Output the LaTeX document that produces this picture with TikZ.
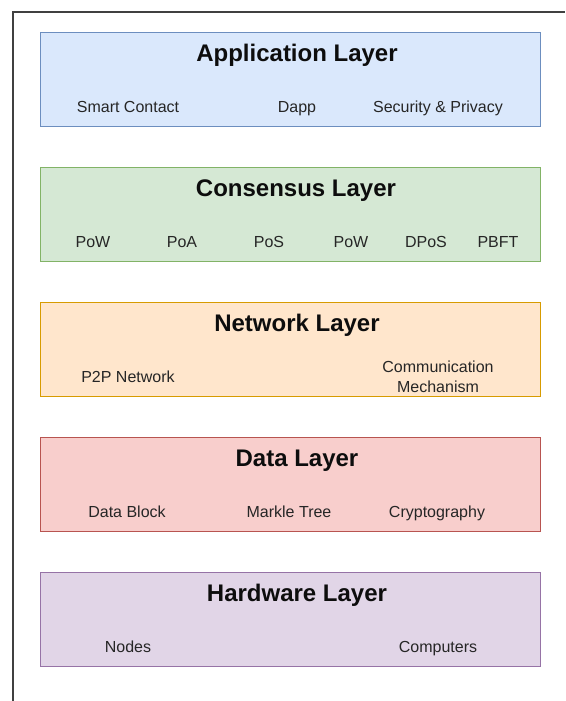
\documentclass[tikz,border=0pt]{standalone}
\usepackage{fontspec}
\setmainfont{Liberation Sans}
\begin{document}
\begin{tikzpicture}[x=1pt,y=-1pt,
  layer/.style={draw=#1, line width=1pt, minimum width=500pt, minimum height=94pt, anchor=north west, inner sep=0pt},
  title/.style={font=\fontsize{24}{27}\selectfont\bfseries, text=black!95, anchor=base, inner sep=0pt},
  item/.style={font=\fontsize{16}{20}\selectfont, text=black!85, align=center, anchor=base, inner sep=0pt}]
\definecolor{appfill}{HTML}{DAE8FC}\definecolor{appline}{HTML}{6C8EBF}
\definecolor{consfill}{HTML}{D5E8D4}\definecolor{consline}{HTML}{82B366}
\definecolor{netfill}{HTML}{FFE6CC}\definecolor{netline}{HTML}{D79B00}
\definecolor{datafill}{HTML}{F8CECC}\definecolor{dataline}{HTML}{B85450}
\definecolor{hwfill}{HTML}{E1D5E7}\definecolor{hwline}{HTML}{9673A6}
\useasboundingbox (0,0) rectangle (565,701);
% page frame (top and left edges)
\draw[line width=1.3pt, black!75] (13,701) -- (13,12) -- (565,12);

% Application layer
\node[layer=appline, fill=appfill] (app) at (40,32) {};
\node[title] (appt) at (297,62) {Application Layer};
\node[item] (sc) at (128,112) {Smart Contact};
\node[item] (dapp) at (297,112) {Dapp};
\node[item] (sp) at (438,112) {Security \& Privacy};

% Consensus layer
\node[layer=consline, fill=consfill] (cons) at (40,167) {};
\node[title] (const) at (296,196) {Consensus Layer};
\node[item] (pow1) at (93,247) {PoW};
\node[item] (poa) at (182,247) {PoA};
\node[item] (pos) at (269,247) {PoS};
\node[item] (pow2) at (351,247) {PoW};
\node[item] (dpos) at (426,247) {DPoS};
\node[item] (pbft) at (498,247) {PBFT};

% Network layer
\node[layer=netline, fill=netfill] (net) at (40,302) {};
\node[title] (nett) at (297,331) {Network Layer};
\node[item] (p2p) at (128,382) {P2P Network};
\node[item] (comm) at (438,392) {Communication\\Mechanism};

% Data layer
\node[layer=dataline, fill=datafill] (data) at (40,437) {};
\node[title] (datat) at (297,466) {Data Layer};
\node[item] (db) at (127,517) {Data Block};
\node[item] (mt) at (289,517) {Markle Tree};
\node[item] (cry) at (437,517) {Cryptography};

% Hardware layer
\node[layer=hwline, fill=hwfill] (hw) at (40,572) {};
\node[title] (hwt) at (297,601) {Hardware Layer};
\node[item] (nodes) at (128,652) {Nodes};
\node[item] (comp) at (438,652) {Computers};
\end{tikzpicture}
\end{document}
